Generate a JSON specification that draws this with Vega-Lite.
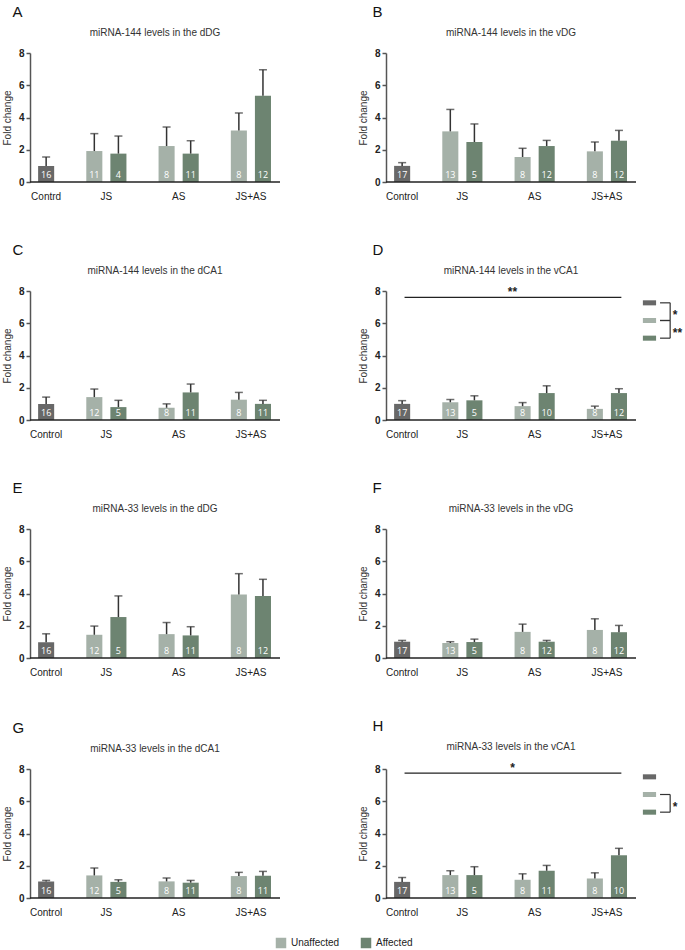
{
  "$schema": "https://vega.github.io/schema/vega-lite/v6.json",
  "padding": {"left": 2, "top": 5, "right": 0, "bottom": 0},
  "config": {
    "font": "Liberation Sans",
    "view": {"stroke": null},
    "axisY": {"grid": false, "values": [0, 2, 4, 6, 8], "labelFontWeight": "bold", "labelFontSize": 10, "labelColor": "#222222", "titleFontSize": 10, "titleFontWeight": "normal", "titleColor": "#333333", "domainColor": "#555555", "domainWidth": 1.5, "tickColor": "#555555", "tickWidth": 1.5, "tickSize": 4, "labelPadding": 2, "titlePadding": 6},
    "axisX": {"title": null, "domain": false, "ticks": false, "labelAngle": 0, "labelPadding": 9, "labelFontSize": 10, "labelColor": "#222222"}
  },
  "datasets": {
    "bars": [
      {"panel": "A", "group": "Control", "condition": "Control", "n": 16, "mean": 1.0, "upper": 1.55},
      {"panel": "A", "group": "JS", "condition": "Unaffected", "n": 11, "mean": 1.92, "upper": 3.0},
      {"panel": "A", "group": "JS", "condition": "Affected", "n": 4, "mean": 1.76, "upper": 2.85},
      {"panel": "A", "group": "AS", "condition": "Unaffected", "n": 8, "mean": 2.23, "upper": 3.41},
      {"panel": "A", "group": "AS", "condition": "Affected", "n": 11, "mean": 1.76, "upper": 2.56},
      {"panel": "A", "group": "JS+AS", "condition": "Unaffected", "n": 8, "mean": 3.2, "upper": 4.28},
      {"panel": "A", "group": "JS+AS", "condition": "Affected", "n": 12, "mean": 5.35, "upper": 6.96},
      {"panel": "B", "group": "Control", "condition": "Control", "n": 17, "mean": 1.0, "upper": 1.2},
      {"panel": "B", "group": "JS", "condition": "Unaffected", "n": 13, "mean": 3.14, "upper": 4.5},
      {"panel": "B", "group": "JS", "condition": "Affected", "n": 5, "mean": 2.48, "upper": 3.6},
      {"panel": "B", "group": "AS", "condition": "Unaffected", "n": 8, "mean": 1.55, "upper": 2.09},
      {"panel": "B", "group": "AS", "condition": "Affected", "n": 12, "mean": 2.23, "upper": 2.58},
      {"panel": "B", "group": "JS+AS", "condition": "Unaffected", "n": 8, "mean": 1.9, "upper": 2.48},
      {"panel": "B", "group": "JS+AS", "condition": "Affected", "n": 12, "mean": 2.56, "upper": 3.2},
      {"panel": "C", "group": "Control", "condition": "Control", "n": 16, "mean": 1.0, "upper": 1.42},
      {"panel": "C", "group": "JS", "condition": "Unaffected", "n": 12, "mean": 1.42, "upper": 1.92},
      {"panel": "C", "group": "JS", "condition": "Affected", "n": 5, "mean": 0.8, "upper": 1.22},
      {"panel": "C", "group": "AS", "condition": "Unaffected", "n": 8, "mean": 0.76, "upper": 1.0},
      {"panel": "C", "group": "AS", "condition": "Affected", "n": 11, "mean": 1.71, "upper": 2.23},
      {"panel": "C", "group": "JS+AS", "condition": "Unaffected", "n": 8, "mean": 1.26, "upper": 1.71},
      {"panel": "C", "group": "JS+AS", "condition": "Affected", "n": 11, "mean": 1.0, "upper": 1.22},
      {"panel": "D", "group": "Control", "condition": "Control", "n": 17, "mean": 1.0, "upper": 1.2},
      {"panel": "D", "group": "JS", "condition": "Unaffected", "n": 13, "mean": 1.1, "upper": 1.27},
      {"panel": "D", "group": "JS", "condition": "Affected", "n": 5, "mean": 1.22, "upper": 1.5},
      {"panel": "D", "group": "AS", "condition": "Unaffected", "n": 8, "mean": 0.86, "upper": 1.08},
      {"panel": "D", "group": "AS", "condition": "Affected", "n": 10, "mean": 1.67, "upper": 2.12},
      {"panel": "D", "group": "JS+AS", "condition": "Unaffected", "n": 8, "mean": 0.69, "upper": 0.86},
      {"panel": "D", "group": "JS+AS", "condition": "Affected", "n": 12, "mean": 1.67, "upper": 1.94},
      {"panel": "E", "group": "Control", "condition": "Control", "n": 16, "mean": 0.98, "upper": 1.5},
      {"panel": "E", "group": "JS", "condition": "Unaffected", "n": 12, "mean": 1.44, "upper": 1.98},
      {"panel": "E", "group": "JS", "condition": "Affected", "n": 5, "mean": 2.54, "upper": 3.85},
      {"panel": "E", "group": "AS", "condition": "Unaffected", "n": 8, "mean": 1.48, "upper": 2.2},
      {"panel": "E", "group": "AS", "condition": "Affected", "n": 11, "mean": 1.4, "upper": 1.94},
      {"panel": "E", "group": "JS+AS", "condition": "Unaffected", "n": 8, "mean": 3.94, "upper": 5.23},
      {"panel": "E", "group": "JS+AS", "condition": "Affected", "n": 12, "mean": 3.85, "upper": 4.88},
      {"panel": "F", "group": "Control", "condition": "Control", "n": 17, "mean": 1.01, "upper": 1.09},
      {"panel": "F", "group": "JS", "condition": "Unaffected", "n": 13, "mean": 0.93, "upper": 1.01},
      {"panel": "F", "group": "JS", "condition": "Affected", "n": 5, "mean": 0.99, "upper": 1.17},
      {"panel": "F", "group": "AS", "condition": "Unaffected", "n": 8, "mean": 1.62, "upper": 2.1},
      {"panel": "F", "group": "AS", "condition": "Affected", "n": 12, "mean": 1.01, "upper": 1.09},
      {"panel": "F", "group": "JS+AS", "condition": "Unaffected", "n": 8, "mean": 1.74, "upper": 2.43},
      {"panel": "F", "group": "JS+AS", "condition": "Affected", "n": 12, "mean": 1.6, "upper": 2.02},
      {"panel": "G", "group": "Control", "condition": "Control", "n": 16, "mean": 1.03, "upper": 1.09},
      {"panel": "G", "group": "JS", "condition": "Unaffected", "n": 12, "mean": 1.4, "upper": 1.86},
      {"panel": "G", "group": "JS", "condition": "Affected", "n": 5, "mean": 1.0, "upper": 1.13},
      {"panel": "G", "group": "AS", "condition": "Unaffected", "n": 8, "mean": 1.03, "upper": 1.24},
      {"panel": "G", "group": "AS", "condition": "Affected", "n": 11, "mean": 0.95, "upper": 1.09},
      {"panel": "G", "group": "JS+AS", "condition": "Unaffected", "n": 8, "mean": 1.36, "upper": 1.59},
      {"panel": "G", "group": "JS+AS", "condition": "Affected", "n": 11, "mean": 1.38, "upper": 1.65},
      {"panel": "H", "group": "Control", "condition": "Control", "n": 17, "mean": 1.0, "upper": 1.27},
      {"panel": "H", "group": "JS", "condition": "Unaffected", "n": 13, "mean": 1.42, "upper": 1.69},
      {"panel": "H", "group": "JS", "condition": "Affected", "n": 5, "mean": 1.42, "upper": 1.94},
      {"panel": "H", "group": "AS", "condition": "Unaffected", "n": 8, "mean": 1.13, "upper": 1.5},
      {"panel": "H", "group": "AS", "condition": "Affected", "n": 11, "mean": 1.69, "upper": 2.02},
      {"panel": "H", "group": "JS+AS", "condition": "Unaffected", "n": 8, "mean": 1.21, "upper": 1.56},
      {"panel": "H", "group": "JS+AS", "condition": "Affected", "n": 10, "mean": 2.65, "upper": 3.08}
    ],
    "sig": [
      {"panel": "D", "level": 7.6, "label": "**"},
      {"panel": "H", "level": 7.75, "label": "*"}
    ],
    "keys": [
      {"condition": "Control"},
      {"condition": "Unaffected"},
      {"condition": "Affected"}
    ],
    "brackets": [
      {"panel": "D", "from": "Control", "to": "Unaffected", "label": "*"},
      {"panel": "D", "from": "Unaffected", "to": "Affected", "label": "**"},
      {"panel": "H", "from": "Unaffected", "to": "Affected", "label": "*"}
    ]
  },
  "resolve": {"scale": {"x": "independent", "y": "independent"}},
  "spacing": 20,
  "vconcat": [
  {
  "resolve": {"scale": {"x": "independent", "y": "independent"}},
  "spacing": 42,
  "vconcat": [
    {
      "resolve": {"scale": {"x": "independent", "y": "independent"}},
      "spacing": 63,
      "hconcat": [
        {
          "title": {"text": "A", "anchor": "start", "fontSize": 15, "fontWeight": "normal", "color": "#111111", "dx": 10, "offset": 8},
          "vconcat": [
            {
              "width": 250, "height": 129,
              "title": {"text": "miRNA-144  levels in the dDG", "fontSize": 10, "fontWeight": "normal", "color": "#333333", "offset": 10},
              "data": {"name": "bars"},
              "transform": [{"filter": "datum.panel === 'A'"}, {"calculate": "datum.condition === 'Unaffected' ? 'left' : 'right'", "as": "slot"}],
              "layer": [
                {"mark": {"type": "bar"}, "encoding": {
                  "x": {"field": "group", "type": "nominal", "sort": ["Control", "JS", "AS", "JS+AS"], "scale": {"domain": ["Control", "JS", "AS", "JS+AS"], "range": [-20, 245], "paddingInner": 0.3333, "paddingOuter": 0}, "axis": {"labelExpr": "datum.value === 'Control' ? 'Contrd' : datum.label", "labelOffset": {"condition": {"test": "datum.value === 'Control'", "value": 12}, "value": 0}}},
                  "xOffset": {"field": "slot", "type": "nominal", "scale": {"domain": ["left", "right"], "paddingInner": 0.3333, "paddingOuter": 0.1667}},
                  "y": {"field": "mean", "type": "quantitative", "scale": {"domain": [0, 8]}, "axis": {"title": "Fold change"}},
                  "color": {"field": "condition", "type": "nominal", "scale": {"domain": ["Control", "Unaffected", "Affected"], "range": ["#686868", "#a5b1a8", "#6d8471"]}, "legend": null}
                }},
                {"mark": {"type": "rule", "color": "#333333", "strokeWidth": 1.5}, "encoding": {
                  "x": {"field": "group", "type": "nominal"}, "xOffset": {"field": "slot", "type": "nominal"},
                  "y": {"field": "mean", "type": "quantitative"}, "y2": {"field": "upper"}}},
                {"mark": {"type": "tick", "color": "#333333", "thickness": 1.5, "size": 8}, "encoding": {
                  "x": {"field": "group", "type": "nominal"}, "xOffset": {"field": "slot", "type": "nominal"},
                  "y": {"field": "upper", "type": "quantitative"}}},
                {"mark": {"type": "text", "color": "#ffffff", "font": "Open Sans", "fontSize": 9, "dy": -7, "baseline": "middle"}, "encoding": {
                  "x": {"field": "group", "type": "nominal"}, "xOffset": {"field": "slot", "type": "nominal"},
                  "y": {"datum": 0}, "text": {"field": "n", "type": "nominal"}}},
                {"data": {"values": [{}]}, "mark": {"type": "rule", "color": "#222222", "strokeWidth": 1.5}, "encoding": {"y": {"datum": 0}}}
              ]
            }
          ]
        },
        {
          "title": {"text": "B", "anchor": "start", "fontSize": 15, "fontWeight": "normal", "color": "#111111", "dx": 14, "offset": 8},
          "vconcat": [
            {
              "width": 250, "height": 129,
              "title": {"text": "miRNA-144  levels in the vDG", "fontSize": 10, "fontWeight": "normal", "color": "#333333", "offset": 10},
              "data": {"name": "bars"},
              "transform": [{"filter": "datum.panel === 'B'"}, {"calculate": "datum.condition === 'Unaffected' ? 'left' : 'right'", "as": "slot"}],
              "layer": [
                {"mark": {"type": "bar"}, "encoding": {
                  "x": {"field": "group", "type": "nominal", "sort": ["Control", "JS", "AS", "JS+AS"], "scale": {"domain": ["Control", "JS", "AS", "JS+AS"], "range": [-20, 245], "paddingInner": 0.3333, "paddingOuter": 0}, "axis": {"labelOffset": {"condition": {"test": "datum.value === 'Control'", "value": 12}, "value": 0}}},
                  "xOffset": {"field": "slot", "type": "nominal", "scale": {"domain": ["left", "right"], "paddingInner": 0.3333, "paddingOuter": 0.1667}},
                  "y": {"field": "mean", "type": "quantitative", "scale": {"domain": [0, 8]}, "axis": {"title": "Fold change"}},
                  "color": {"field": "condition", "type": "nominal", "scale": {"domain": ["Control", "Unaffected", "Affected"], "range": ["#686868", "#a5b1a8", "#6d8471"]}, "legend": null}
                }},
                {"mark": {"type": "rule", "color": "#333333", "strokeWidth": 1.5}, "encoding": {
                  "x": {"field": "group", "type": "nominal"}, "xOffset": {"field": "slot", "type": "nominal"},
                  "y": {"field": "mean", "type": "quantitative"}, "y2": {"field": "upper"}}},
                {"mark": {"type": "tick", "color": "#333333", "thickness": 1.5, "size": 8}, "encoding": {
                  "x": {"field": "group", "type": "nominal"}, "xOffset": {"field": "slot", "type": "nominal"},
                  "y": {"field": "upper", "type": "quantitative"}}},
                {"mark": {"type": "text", "color": "#ffffff", "font": "Open Sans", "fontSize": 9, "dy": -7, "baseline": "middle"}, "encoding": {
                  "x": {"field": "group", "type": "nominal"}, "xOffset": {"field": "slot", "type": "nominal"},
                  "y": {"datum": 0}, "text": {"field": "n", "type": "nominal"}}},
                {"data": {"values": [{}]}, "mark": {"type": "rule", "color": "#222222", "strokeWidth": 1.5}, "encoding": {"y": {"datum": 0}}}
              ]
            }
          ]
        }
      ]
    },
    {
      "resolve": {"scale": {"x": "independent", "y": "independent"}},
      "spacing": 63,
      "hconcat": [
        {
          "title": {"text": "C", "anchor": "start", "fontSize": 15, "fontWeight": "normal", "color": "#111111", "dx": 10, "offset": 8},
          "vconcat": [
            {
              "width": 250, "height": 129,
              "title": {"text": "miRNA-144  levels in the dCA1", "fontSize": 10, "fontWeight": "normal", "color": "#333333", "offset": 10},
              "data": {"name": "bars"},
              "transform": [{"filter": "datum.panel === 'C'"}, {"calculate": "datum.condition === 'Unaffected' ? 'left' : 'right'", "as": "slot"}],
              "layer": [
                {"mark": {"type": "bar"}, "encoding": {
                  "x": {"field": "group", "type": "nominal", "sort": ["Control", "JS", "AS", "JS+AS"], "scale": {"domain": ["Control", "JS", "AS", "JS+AS"], "range": [-20, 245], "paddingInner": 0.3333, "paddingOuter": 0}, "axis": {"labelOffset": {"condition": {"test": "datum.value === 'Control'", "value": 12}, "value": 0}}},
                  "xOffset": {"field": "slot", "type": "nominal", "scale": {"domain": ["left", "right"], "paddingInner": 0.3333, "paddingOuter": 0.1667}},
                  "y": {"field": "mean", "type": "quantitative", "scale": {"domain": [0, 8]}, "axis": {"title": "Fold change"}},
                  "color": {"field": "condition", "type": "nominal", "scale": {"domain": ["Control", "Unaffected", "Affected"], "range": ["#686868", "#a5b1a8", "#6d8471"]}, "legend": null}
                }},
                {"mark": {"type": "rule", "color": "#333333", "strokeWidth": 1.5}, "encoding": {
                  "x": {"field": "group", "type": "nominal"}, "xOffset": {"field": "slot", "type": "nominal"},
                  "y": {"field": "mean", "type": "quantitative"}, "y2": {"field": "upper"}}},
                {"mark": {"type": "tick", "color": "#333333", "thickness": 1.5, "size": 8}, "encoding": {
                  "x": {"field": "group", "type": "nominal"}, "xOffset": {"field": "slot", "type": "nominal"},
                  "y": {"field": "upper", "type": "quantitative"}}},
                {"mark": {"type": "text", "color": "#ffffff", "font": "Open Sans", "fontSize": 9, "dy": -7, "baseline": "middle"}, "encoding": {
                  "x": {"field": "group", "type": "nominal"}, "xOffset": {"field": "slot", "type": "nominal"},
                  "y": {"datum": 0}, "text": {"field": "n", "type": "nominal"}}},
                {"data": {"values": [{}]}, "mark": {"type": "rule", "color": "#222222", "strokeWidth": 1.5}, "encoding": {"y": {"datum": 0}}}
              ]
            }
          ]
        },
        {
          "title": {"text": "D", "anchor": "start", "fontSize": 15, "fontWeight": "normal", "color": "#111111", "dx": 14, "offset": 8},
          "vconcat": [
            {
              "width": 300, "height": 129,
              "title": {"text": "miRNA-144  levels in the vCA1", "fontSize": 10, "fontWeight": "normal", "color": "#333333", "offset": 10, "dx": -25},
              "resolve": {"scale": {"x": "independent", "y": "independent"}},
              "layer": [
                {
                  "layer": [
                    {"data": {"name": "bars"},
                     "transform": [{"filter": "datum.panel === 'D'"}, {"calculate": "datum.condition === 'Unaffected' ? 'left' : 'right'", "as": "slot"}],
                     "layer": [
                      {"mark": {"type": "bar"}, "encoding": {
                        "x": {"field": "group", "type": "nominal", "sort": ["Control", "JS", "AS", "JS+AS"], "scale": {"domain": ["Control", "JS", "AS", "JS+AS"], "range": [-20, 245], "paddingInner": 0.3333, "paddingOuter": 0}, "axis": {"labelOffset": {"condition": {"test": "datum.value === 'Control'", "value": 12}, "value": 0}}},
                        "xOffset": {"field": "slot", "type": "nominal", "scale": {"domain": ["left", "right"], "paddingInner": 0.3333, "paddingOuter": 0.1667}},
                        "y": {"field": "mean", "type": "quantitative", "scale": {"domain": [0, 8]}, "axis": {"title": "Fold change"}},
                        "color": {"field": "condition", "type": "nominal", "scale": {"domain": ["Control", "Unaffected", "Affected"], "range": ["#686868", "#a5b1a8", "#6d8471"]}, "legend": null}
                      }},
                      {"mark": {"type": "rule", "color": "#333333", "strokeWidth": 1.5}, "encoding": {
                        "x": {"field": "group", "type": "nominal"}, "xOffset": {"field": "slot", "type": "nominal"},
                        "y": {"field": "mean", "type": "quantitative"}, "y2": {"field": "upper"}}},
                      {"mark": {"type": "tick", "color": "#333333", "thickness": 1.5, "size": 8}, "encoding": {
                        "x": {"field": "group", "type": "nominal"}, "xOffset": {"field": "slot", "type": "nominal"},
                        "y": {"field": "upper", "type": "quantitative"}}},
                      {"mark": {"type": "text", "color": "#ffffff", "font": "Open Sans", "fontSize": 9, "dy": -7, "baseline": "middle"}, "encoding": {
                        "x": {"field": "group", "type": "nominal"}, "xOffset": {"field": "slot", "type": "nominal"},
                        "y": {"datum": 0}, "text": {"field": "n", "type": "nominal"}}}
                     ]},
                    {"data": {"values": [{}]}, "mark": {"type": "rule", "color": "#222222", "strokeWidth": 1.5}, "encoding": {"x": {"datum": "Control", "bandPosition": 0.415}, "x2": {"datum": "JS+AS", "bandPosition": 1.104}, "y": {"datum": 0}}},
                    {"data": {"name": "sig"}, "transform": [{"filter": "datum.panel === 'D'"}],
                     "mark": {"type": "rule", "color": "#222222", "strokeWidth": 1.2},
                     "encoding": {"x": {"datum": "Control", "bandPosition": 0.8}, "x2": {"datum": "JS+AS", "bandPosition": 0.8}, "y": {"field": "level", "type": "quantitative"}}},
                    {"data": {"name": "sig"}, "transform": [{"filter": "datum.panel === 'D'"}],
                     "mark": {"type": "text", "color": "#222222", "fontSize": 12, "fontWeight": "bold", "baseline": "alphabetic", "dy": -1},
                     "encoding": {"x": {"datum": "AS", "bandPosition": 0.04}, "y": {"field": "level", "type": "quantitative"}, "text": {"field": "label"}}}
                  ]
                },
                {
                  "layer": [
                    {"data": {"name": "keys"}, "mark": {"type": "bar"}, "encoding": {
                      "y": {"field": "condition", "type": "nominal", "scale": {"domain": ["Control", "Unaffected", "Affected"], "range": [3, 56], "paddingInner": 0.714, "paddingOuter": 0.357}, "axis": null},
                      "x": {"datum": 0.02, "type": "quantitative", "scale": {"domain": [0, 1], "range": [256, 300]}, "axis": null},
                      "x2": {"datum": 0.32},
                      "color": {"field": "condition", "type": "nominal", "legend": null}
                    }},
                    {"data": {"name": "brackets"}, "transform": [{"filter": "datum.panel === 'D'"}], "mark": {"type": "rule", "color": "#333333", "strokeWidth": 1.2}, "encoding": {
                      "x": {"datum": 0.64, "type": "quantitative"}, "y": {"field": "from", "type": "nominal"}, "y2": {"field": "to"}}},
                    {"data": {"name": "brackets"}, "transform": [{"filter": "datum.panel === 'D'"}], "mark": {"type": "rule", "color": "#333333", "strokeWidth": 1.2}, "encoding": {
                      "x": {"datum": 0.41, "type": "quantitative"}, "x2": {"datum": 0.64}, "y": {"field": "from", "type": "nominal"}}},
                    {"data": {"name": "brackets"}, "transform": [{"filter": "datum.panel === 'D'"}], "mark": {"type": "rule", "color": "#333333", "strokeWidth": 1.2}, "encoding": {
                      "x": {"datum": 0.41, "type": "quantitative"}, "x2": {"datum": 0.64}, "y": {"field": "to", "type": "nominal"}}},
                    {"data": {"name": "brackets"}, "transform": [{"filter": "datum.panel === 'D'"}], "mark": {"type": "text", "color": "#222222", "fontSize": 12, "fontWeight": "bold", "align": "left", "baseline": "middle", "dy": 12}, "encoding": {
                      "x": {"datum": 0.7, "type": "quantitative"}, "y": {"field": "from", "type": "nominal"}, "text": {"field": "label"}}}
                  ]
                }
              ]
            }
          ]
        }
      ]
    },
    {
      "resolve": {"scale": {"x": "independent", "y": "independent"}},
      "spacing": 63,
      "hconcat": [
        {
          "title": {"text": "E", "anchor": "start", "fontSize": 15, "fontWeight": "normal", "color": "#111111", "dx": 10, "offset": 8},
          "vconcat": [
            {
              "width": 250, "height": 129,
              "title": {"text": "miRNA-33  levels in the dDG", "fontSize": 10, "fontWeight": "normal", "color": "#333333", "offset": 10},
              "data": {"name": "bars"},
              "transform": [{"filter": "datum.panel === 'E'"}, {"calculate": "datum.condition === 'Unaffected' ? 'left' : 'right'", "as": "slot"}],
              "layer": [
                {"mark": {"type": "bar"}, "encoding": {
                  "x": {"field": "group", "type": "nominal", "sort": ["Control", "JS", "AS", "JS+AS"], "scale": {"domain": ["Control", "JS", "AS", "JS+AS"], "range": [-20, 245], "paddingInner": 0.3333, "paddingOuter": 0}, "axis": {"labelOffset": {"condition": {"test": "datum.value === 'Control'", "value": 12}, "value": 0}}},
                  "xOffset": {"field": "slot", "type": "nominal", "scale": {"domain": ["left", "right"], "paddingInner": 0.3333, "paddingOuter": 0.1667}},
                  "y": {"field": "mean", "type": "quantitative", "scale": {"domain": [0, 8]}, "axis": {"title": "Fold change"}},
                  "color": {"field": "condition", "type": "nominal", "scale": {"domain": ["Control", "Unaffected", "Affected"], "range": ["#686868", "#a5b1a8", "#6d8471"]}, "legend": null}
                }},
                {"mark": {"type": "rule", "color": "#333333", "strokeWidth": 1.5}, "encoding": {
                  "x": {"field": "group", "type": "nominal"}, "xOffset": {"field": "slot", "type": "nominal"},
                  "y": {"field": "mean", "type": "quantitative"}, "y2": {"field": "upper"}}},
                {"mark": {"type": "tick", "color": "#333333", "thickness": 1.5, "size": 8}, "encoding": {
                  "x": {"field": "group", "type": "nominal"}, "xOffset": {"field": "slot", "type": "nominal"},
                  "y": {"field": "upper", "type": "quantitative"}}},
                {"mark": {"type": "text", "color": "#ffffff", "font": "Open Sans", "fontSize": 9, "dy": -7, "baseline": "middle"}, "encoding": {
                  "x": {"field": "group", "type": "nominal"}, "xOffset": {"field": "slot", "type": "nominal"},
                  "y": {"datum": 0}, "text": {"field": "n", "type": "nominal"}}},
                {"data": {"values": [{}]}, "mark": {"type": "rule", "color": "#222222", "strokeWidth": 1.5}, "encoding": {"y": {"datum": 0}}}
              ]
            }
          ]
        },
        {
          "title": {"text": "F", "anchor": "start", "fontSize": 15, "fontWeight": "normal", "color": "#111111", "dx": 14, "offset": 8},
          "vconcat": [
            {
              "width": 250, "height": 129,
              "title": {"text": "miRNA-33 levels in the vDG", "fontSize": 10, "fontWeight": "normal", "color": "#333333", "offset": 10},
              "data": {"name": "bars"},
              "transform": [{"filter": "datum.panel === 'F'"}, {"calculate": "datum.condition === 'Unaffected' ? 'left' : 'right'", "as": "slot"}],
              "layer": [
                {"mark": {"type": "bar"}, "encoding": {
                  "x": {"field": "group", "type": "nominal", "sort": ["Control", "JS", "AS", "JS+AS"], "scale": {"domain": ["Control", "JS", "AS", "JS+AS"], "range": [-20, 245], "paddingInner": 0.3333, "paddingOuter": 0}, "axis": {"labelOffset": {"condition": {"test": "datum.value === 'Control'", "value": 12}, "value": 0}}},
                  "xOffset": {"field": "slot", "type": "nominal", "scale": {"domain": ["left", "right"], "paddingInner": 0.3333, "paddingOuter": 0.1667}},
                  "y": {"field": "mean", "type": "quantitative", "scale": {"domain": [0, 8]}, "axis": {"title": "Fold change"}},
                  "color": {"field": "condition", "type": "nominal", "scale": {"domain": ["Control", "Unaffected", "Affected"], "range": ["#686868", "#a5b1a8", "#6d8471"]}, "legend": null}
                }},
                {"mark": {"type": "rule", "color": "#333333", "strokeWidth": 1.5}, "encoding": {
                  "x": {"field": "group", "type": "nominal"}, "xOffset": {"field": "slot", "type": "nominal"},
                  "y": {"field": "mean", "type": "quantitative"}, "y2": {"field": "upper"}}},
                {"mark": {"type": "tick", "color": "#333333", "thickness": 1.5, "size": 8}, "encoding": {
                  "x": {"field": "group", "type": "nominal"}, "xOffset": {"field": "slot", "type": "nominal"},
                  "y": {"field": "upper", "type": "quantitative"}}},
                {"mark": {"type": "text", "color": "#ffffff", "font": "Open Sans", "fontSize": 9, "dy": -7, "baseline": "middle"}, "encoding": {
                  "x": {"field": "group", "type": "nominal"}, "xOffset": {"field": "slot", "type": "nominal"},
                  "y": {"datum": 0}, "text": {"field": "n", "type": "nominal"}}},
                {"data": {"values": [{}]}, "mark": {"type": "rule", "color": "#222222", "strokeWidth": 1.5}, "encoding": {"y": {"datum": 0}}}
              ]
            }
          ]
        }
      ]
    },
    {
      "resolve": {"scale": {"x": "independent", "y": "independent"}},
      "spacing": 63,
      "hconcat": [
        {
          "title": {"text": "G", "anchor": "start", "fontSize": 15, "fontWeight": "normal", "color": "#111111", "dx": 10, "offset": 8},
          "vconcat": [
            {
              "width": 250, "height": 129,
              "title": {"text": "miRNA-33  levels in the dCA1", "fontSize": 10, "fontWeight": "normal", "color": "#333333", "offset": 10},
              "data": {"name": "bars"},
              "transform": [{"filter": "datum.panel === 'G'"}, {"calculate": "datum.condition === 'Unaffected' ? 'left' : 'right'", "as": "slot"}],
              "layer": [
                {"mark": {"type": "bar"}, "encoding": {
                  "x": {"field": "group", "type": "nominal", "sort": ["Control", "JS", "AS", "JS+AS"], "scale": {"domain": ["Control", "JS", "AS", "JS+AS"], "range": [-20, 245], "paddingInner": 0.3333, "paddingOuter": 0}, "axis": {"labelOffset": {"condition": {"test": "datum.value === 'Control'", "value": 12}, "value": 0}}},
                  "xOffset": {"field": "slot", "type": "nominal", "scale": {"domain": ["left", "right"], "paddingInner": 0.3333, "paddingOuter": 0.1667}},
                  "y": {"field": "mean", "type": "quantitative", "scale": {"domain": [0, 8]}, "axis": {"title": "Fold change"}},
                  "color": {"field": "condition", "type": "nominal", "scale": {"domain": ["Control", "Unaffected", "Affected"], "range": ["#686868", "#a5b1a8", "#6d8471"]}, "legend": null}
                }},
                {"mark": {"type": "rule", "color": "#333333", "strokeWidth": 1.5}, "encoding": {
                  "x": {"field": "group", "type": "nominal"}, "xOffset": {"field": "slot", "type": "nominal"},
                  "y": {"field": "mean", "type": "quantitative"}, "y2": {"field": "upper"}}},
                {"mark": {"type": "tick", "color": "#333333", "thickness": 1.5, "size": 8}, "encoding": {
                  "x": {"field": "group", "type": "nominal"}, "xOffset": {"field": "slot", "type": "nominal"},
                  "y": {"field": "upper", "type": "quantitative"}}},
                {"mark": {"type": "text", "color": "#ffffff", "font": "Open Sans", "fontSize": 9, "dy": -7, "baseline": "middle"}, "encoding": {
                  "x": {"field": "group", "type": "nominal"}, "xOffset": {"field": "slot", "type": "nominal"},
                  "y": {"datum": 0}, "text": {"field": "n", "type": "nominal"}}},
                {"data": {"values": [{}]}, "mark": {"type": "rule", "color": "#222222", "strokeWidth": 1.5}, "encoding": {"y": {"datum": 0}}}
              ]
            }
          ]
        },
        {
          "title": {"text": "H", "anchor": "start", "fontSize": 15, "fontWeight": "normal", "color": "#111111", "dx": 14, "offset": 8},
          "vconcat": [
            {
              "width": 300, "height": 129,
              "title": {"text": "miRNA-33  levels in the vCA1", "fontSize": 10, "fontWeight": "normal", "color": "#333333", "offset": 10, "dx": -25},
              "resolve": {"scale": {"x": "independent", "y": "independent"}},
              "layer": [
                {
                  "layer": [
                    {"data": {"name": "bars"},
                     "transform": [{"filter": "datum.panel === 'H'"}, {"calculate": "datum.condition === 'Unaffected' ? 'left' : 'right'", "as": "slot"}],
                     "layer": [
                      {"mark": {"type": "bar"}, "encoding": {
                        "x": {"field": "group", "type": "nominal", "sort": ["Control", "JS", "AS", "JS+AS"], "scale": {"domain": ["Control", "JS", "AS", "JS+AS"], "range": [-20, 245], "paddingInner": 0.3333, "paddingOuter": 0}, "axis": {"labelOffset": {"condition": {"test": "datum.value === 'Control'", "value": 12}, "value": 0}}},
                        "xOffset": {"field": "slot", "type": "nominal", "scale": {"domain": ["left", "right"], "paddingInner": 0.3333, "paddingOuter": 0.1667}},
                        "y": {"field": "mean", "type": "quantitative", "scale": {"domain": [0, 8]}, "axis": {"title": "Fold change"}},
                        "color": {"field": "condition", "type": "nominal", "scale": {"domain": ["Control", "Unaffected", "Affected"], "range": ["#686868", "#a5b1a8", "#6d8471"]}, "legend": null}
                      }},
                      {"mark": {"type": "rule", "color": "#333333", "strokeWidth": 1.5}, "encoding": {
                        "x": {"field": "group", "type": "nominal"}, "xOffset": {"field": "slot", "type": "nominal"},
                        "y": {"field": "mean", "type": "quantitative"}, "y2": {"field": "upper"}}},
                      {"mark": {"type": "tick", "color": "#333333", "thickness": 1.5, "size": 8}, "encoding": {
                        "x": {"field": "group", "type": "nominal"}, "xOffset": {"field": "slot", "type": "nominal"},
                        "y": {"field": "upper", "type": "quantitative"}}},
                      {"mark": {"type": "text", "color": "#ffffff", "font": "Open Sans", "fontSize": 9, "dy": -7, "baseline": "middle"}, "encoding": {
                        "x": {"field": "group", "type": "nominal"}, "xOffset": {"field": "slot", "type": "nominal"},
                        "y": {"datum": 0}, "text": {"field": "n", "type": "nominal"}}}
                     ]},
                    {"data": {"values": [{}]}, "mark": {"type": "rule", "color": "#222222", "strokeWidth": 1.5}, "encoding": {"x": {"datum": "Control", "bandPosition": 0.415}, "x2": {"datum": "JS+AS", "bandPosition": 1.104}, "y": {"datum": 0}}},
                    {"data": {"name": "sig"}, "transform": [{"filter": "datum.panel === 'H'"}],
                     "mark": {"type": "rule", "color": "#222222", "strokeWidth": 1.2},
                     "encoding": {"x": {"datum": "Control", "bandPosition": 0.8}, "x2": {"datum": "JS+AS", "bandPosition": 0.8}, "y": {"field": "level", "type": "quantitative"}}},
                    {"data": {"name": "sig"}, "transform": [{"filter": "datum.panel === 'H'"}],
                     "mark": {"type": "text", "color": "#222222", "fontSize": 12, "fontWeight": "bold", "baseline": "alphabetic", "dy": -1},
                     "encoding": {"x": {"datum": "AS", "bandPosition": 0.04}, "y": {"field": "level", "type": "quantitative"}, "text": {"field": "label"}}}
                  ]
                },
                {
                  "layer": [
                    {"data": {"name": "keys"}, "mark": {"type": "bar"}, "encoding": {
                      "y": {"field": "condition", "type": "nominal", "scale": {"domain": ["Control", "Unaffected", "Affected"], "range": [-1, 52], "paddingInner": 0.714, "paddingOuter": 0.357}, "axis": null},
                      "x": {"datum": 0.02, "type": "quantitative", "scale": {"domain": [0, 1], "range": [256, 300]}, "axis": null},
                      "x2": {"datum": 0.32},
                      "color": {"field": "condition", "type": "nominal", "legend": null}
                    }},
                    {"data": {"name": "brackets"}, "transform": [{"filter": "datum.panel === 'H'"}], "mark": {"type": "rule", "color": "#333333", "strokeWidth": 1.2}, "encoding": {
                      "x": {"datum": 0.64, "type": "quantitative"}, "y": {"field": "from", "type": "nominal"}, "y2": {"field": "to"}}},
                    {"data": {"name": "brackets"}, "transform": [{"filter": "datum.panel === 'H'"}], "mark": {"type": "rule", "color": "#333333", "strokeWidth": 1.2}, "encoding": {
                      "x": {"datum": 0.41, "type": "quantitative"}, "x2": {"datum": 0.64}, "y": {"field": "from", "type": "nominal"}}},
                    {"data": {"name": "brackets"}, "transform": [{"filter": "datum.panel === 'H'"}], "mark": {"type": "rule", "color": "#333333", "strokeWidth": 1.2}, "encoding": {
                      "x": {"datum": 0.41, "type": "quantitative"}, "x2": {"datum": 0.64}, "y": {"field": "to", "type": "nominal"}}},
                    {"data": {"name": "brackets"}, "transform": [{"filter": "datum.panel === 'H'"}], "mark": {"type": "text", "color": "#222222", "fontSize": 12, "fontWeight": "bold", "align": "left", "baseline": "middle", "dy": 12}, "encoding": {
                      "x": {"datum": 0.7, "type": "quantitative"}, "y": {"field": "from", "type": "nominal"}, "text": {"field": "label"}}}
                  ]
                }
              ]
            }
          ]
        }
      ]
    }
  ]
  },
  {
    "width": 400, "height": 12,
    "data": {"name": "keys"},
    "transform": [{"filter": "datum.condition !== 'Control'"}],
    "layer": [
      {"mark": {"type": "point", "shape": "square", "filled": true, "size": 110, "opacity": 1}, "encoding": {
        "x": {"field": "condition", "type": "nominal", "scale": {"type": "point", "domain": ["Unaffected", "Affected"], "range": [251, 336], "padding": 0}, "axis": null},
        "color": {"field": "condition", "type": "nominal", "legend": null}}},
      {"mark": {"type": "text", "align": "left", "baseline": "middle", "dx": 10, "fontSize": 10, "color": "#222222"}, "encoding": {
        "x": {"field": "condition", "type": "nominal"},
        "text": {"field": "condition", "type": "nominal"}}}
    ]
  }
  ]
}
